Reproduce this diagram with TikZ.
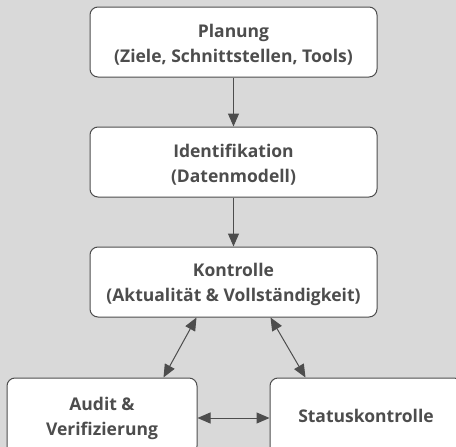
\documentclass[tikz,border=0pt]{standalone}
\usepackage{fontspec}
\setmainfont{Open Sans}
\usetikzlibrary{arrows.meta}
\definecolor{bg}{HTML}{D9D9D9}
\definecolor{ink}{HTML}{4D4D4D}
\newcommand{\topstrut}{\rule{0pt}{18pt}}
\begin{document}
\begin{tikzpicture}[x=1pt,y=-1pt,
  box/.style={draw=ink,line width=1pt,fill=white,rounded corners=8pt,
    align=center,inner sep=0pt,text=ink,font=\fontsize{17.5}{25}\selectfont\bfseries},
  conn/.style={draw=ink,line width=1pt,-{Triangle[length=13pt,width=11pt]}},
  both/.style={draw=ink,line width=1pt,{Triangle[length=13pt,width=11pt]}-{Triangle[length=13pt,width=11pt]}}]
\fill[bg] (0,0) rectangle (456,447);
\useasboundingbox (0,0) rectangle (456,447);
\node[box,minimum width=287pt,minimum height=70pt] (p) at (233.5,42) {\topstrut Planung\\(Ziele, Schnittstellen, Tools)};
\node[box,minimum width=287pt,minimum height=70pt] (i) at (233.5,162) {\topstrut Identifikation\\(Datenmodell)};
\node[box,minimum width=287pt,minimum height=70pt] (k) at (233.5,282) {\topstrut Kontrolle\\(Aktualität \& Vollständigkeit)};
\node[box,minimum width=190pt,minimum height=76pt] (a) at (102,416) {\topstrut Audit \&\\Verifizierung};
\node[box,minimum width=192pt,minimum height=76pt] (s) at (366,416) {Statuskontrolle};
\draw[conn] (p.south) -- (i.north);
\draw[conn] (i.south) -- (k.north);
\draw[both] ([xshift=107pt]k.south west) -- ([xshift=-34pt]a.north east);
\draw[both] ([xshift=-107pt]k.south east) -- ([xshift=36pt]s.north west);
\draw[both] ([yshift=-2pt]a.east) -- ([yshift=-2pt]s.west);
\end{tikzpicture}
\end{document}
